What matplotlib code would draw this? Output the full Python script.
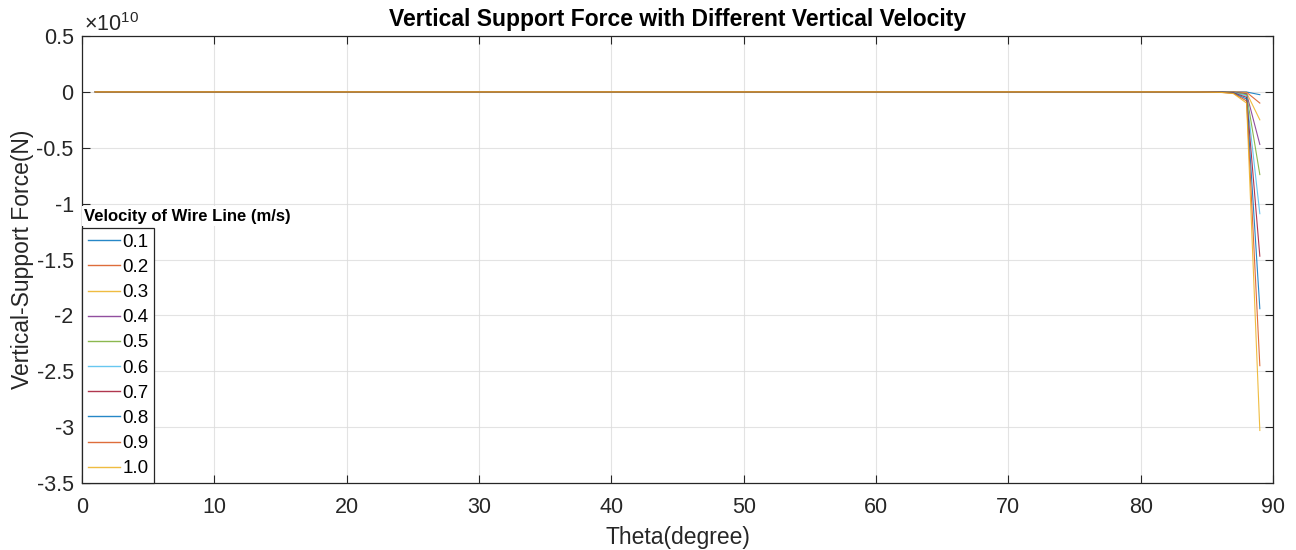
import numpy as np
import matplotlib
matplotlib.use("Agg")
import matplotlib.pyplot as plt
from matplotlib.ticker import FuncFormatter

plt.rcParams['font.family'] = ['Liberation Sans', 'DejaVu Sans']
plt.rcParams['axes.unicode_minus'] = False
plt.rcParams['mathtext.fontset'] = 'custom'
plt.rcParams['mathtext.rm'] = 'Liberation Sans'

# theta in degree, force in units of 1e10 N
theta = list(range(1, 90))
velocities = ["0.1", "0.2", "0.3", "0.4", "0.5", "0.6", "0.7", "0.8", "0.9", "1.0"]

flat_part = [0.0] * 84  # theta 1..84, flat at zero on this scale
# theta 85, 86, 87, 88, 89
tail_01 = [0.0, 0.0, -0.0002, -0.001, -0.025]
tail_02 = [0.0, -0.0001, -0.0006, -0.0035, -0.10]
tail_03 = [-0.0001, -0.0003, -0.0012, -0.008, -0.25]
tail_04 = [-0.0002, -0.0006, -0.0025, -0.016, -0.47]
tail_05 = [-0.0004, -0.001, -0.004, -0.025, -0.74]
tail_06 = [-0.0005, -0.0014, -0.0055, -0.036, -1.09]
tail_07 = [-0.0007, -0.002, -0.0075, -0.049, -1.47]
tail_08 = [-0.0009, -0.0026, -0.0098, -0.064, -1.94]
tail_09 = [-0.0012, -0.0033, -0.012, -0.081, -2.45]
tail_10 = [-0.0015, -0.004, -0.015, -0.10, -3.03]
tails = [tail_01, tail_02, tail_03, tail_04, tail_05,
         tail_06, tail_07, tail_08, tail_09, tail_10]

colores = ["#0072BD", "#D95319", "#EDB120", "#7E2F8E", "#77AC30",
           "#4DBEEE", "#A2142F", "#0072BD", "#D95319", "#EDB120"]

fig = plt.figure(figsize=(12.96, 5.5), dpi=100)
ax = fig.add_axes([0.0633, 0.1218, 0.919, 0.8127])

lineas = []
for v, tail, c in zip(velocities, tails, colores):
    l, = ax.plot(theta, flat_part + tail, color=c, lw=0.8, alpha=0.85, label=v)
    lineas.append(l)

ax.set_xlim(0, 90)
ax.set_ylim(-3.5, 0.5)
ax.set_xticks(range(0, 91, 10))
ax.set_yticks(np.arange(-3.5, 0.51, 0.5))
ax.yaxis.set_major_formatter(FuncFormatter(lambda y, p: f"{y:g}"))
ax.grid(True, color="#dcdcdc", lw=0.8, alpha=0.8)
ax.set_axisbelow(True)
ax.tick_params(direction="in", length=6, width=0.8, colors="#262626",
               labelsize=15.5, top=True, right=True)
ax.tick_params(axis="x", pad=10)
ax.tick_params(axis="y", pad=6)
for s in ax.spines.values():
    s.set_color("#262626")
    s.set_linewidth(0.9)

ax.set_xlabel("Theta(degree)", fontsize=16.5, color="#262626", labelpad=6)
ax.set_ylabel("Vertical-Support Force(N)", fontsize=16.5, color="#262626", labelpad=2)
ax.set_title("Vertical Support Force with Different Vertical Velocity",
             fontsize=16.5, fontweight="bold", pad=7)
ax.text(0.002, 1.0, r"$\times 10^{10}$", transform=ax.transAxes,
        fontsize=15.5, color="#262626", ha="left", va="bottom")

leg = ax.legend(handles=lineas, loc="lower left", bbox_to_anchor=(0, 0),
                borderaxespad=0, fontsize=13.5, handlelength=1.75,
                handletextpad=0.1, labelspacing=0.43, borderpad=0.3,
                fancybox=False, framealpha=1, edgecolor="#262626")
leg.get_frame().set_linewidth(0.9)
for h in leg.get_lines():
    h.set_linewidth(1.0)
ax.text(0.002, 0.597, "Velocity of Wire Line (m/s)", transform=ax.transAxes,
        fontsize=12, fontweight="bold", ha="left", va="center", zorder=5,
        bbox=dict(facecolor="white", edgecolor="none", pad=2))

plt.savefig("out.png", dpi=100)
